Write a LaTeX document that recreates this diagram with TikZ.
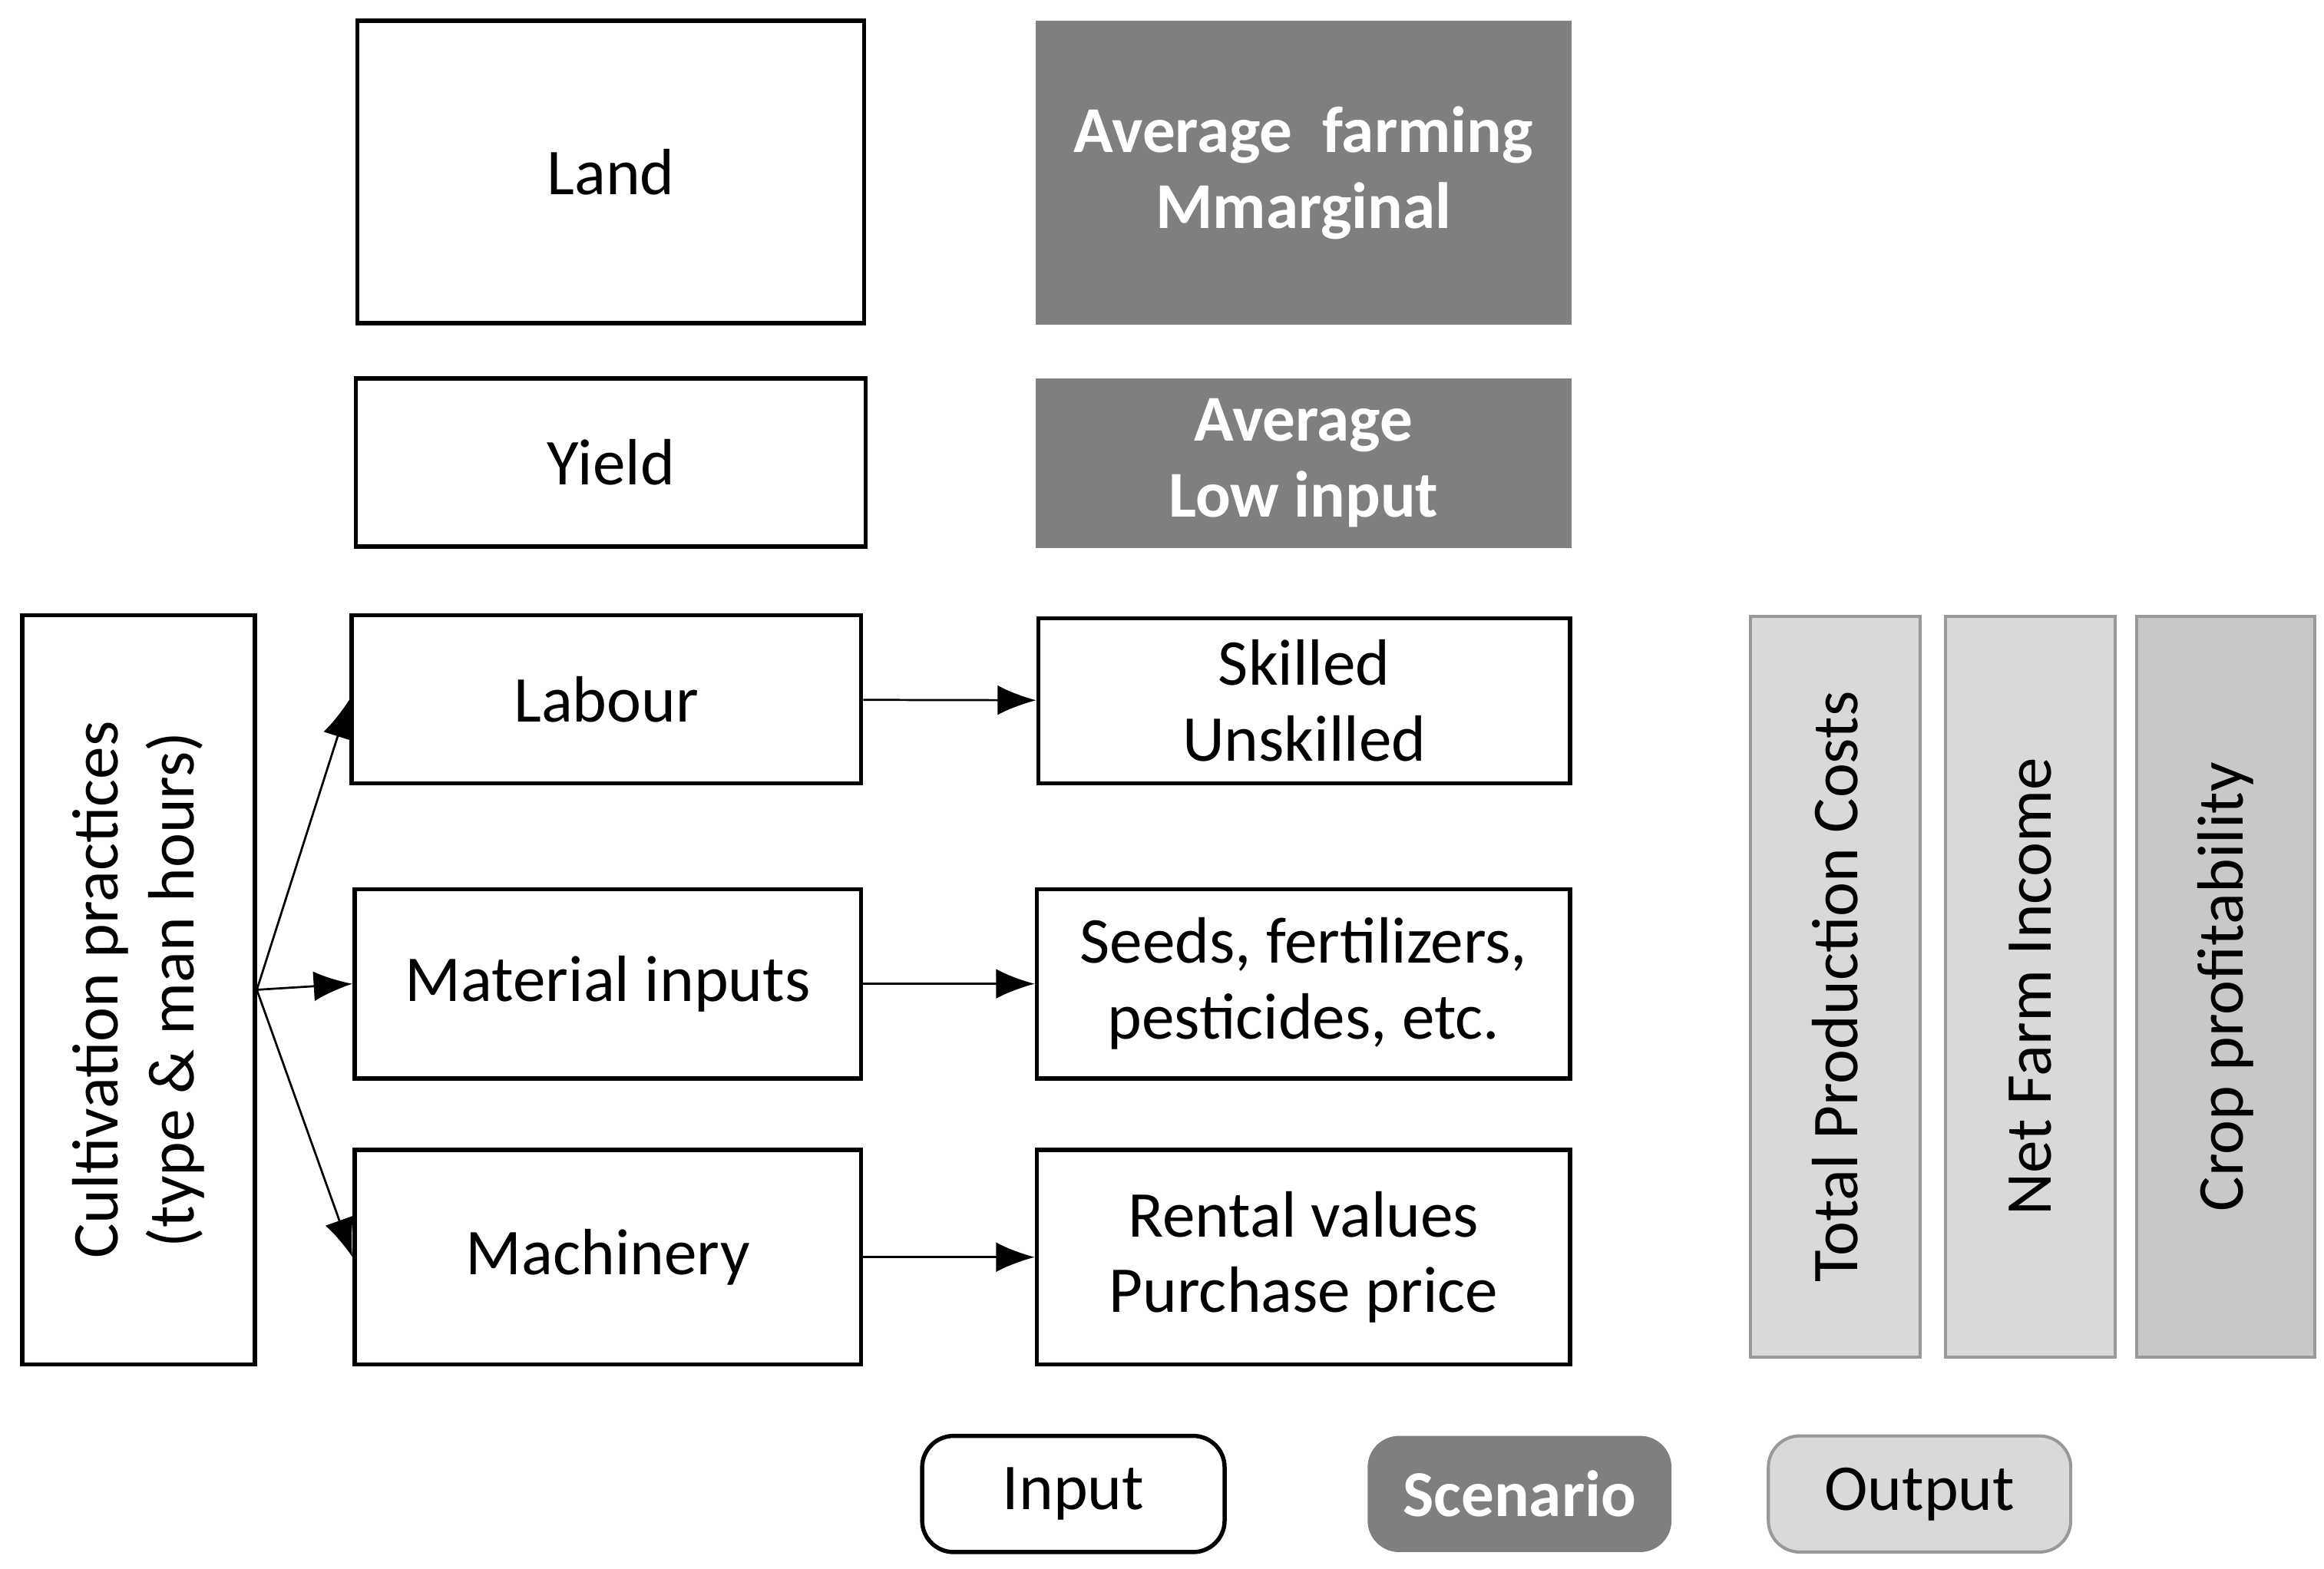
\documentclass[tikz,border=0pt]{standalone}
\usepackage{fontspec}
\setmainfont{Carlito}
\usetikzlibrary{arrows,arrows.meta,positioning}
\definecolor{scengray}{HTML}{7F7F7F}
\definecolor{outgray}{HTML}{D9D9D9}
\definecolor{outdark}{HTML}{C8C8C8}
\begin{document}
\begin{tikzpicture}[->,>=latex,semithick,font=\fontsize{12.5}{14.5}\selectfont]
  \tikzstyle{input}=[draw,thick,align=center,inner sep=0pt]
  \tikzstyle{scenario}=[fill=scengray,text=white,font=\fontsize{12.5}{14.5}\selectfont\bfseries,align=center,inner sep=0pt]
  \tikzstyle{output}=[draw=gray!80,fill=outgray,rotate=90,align=center,inner sep=0pt]
  \useasboundingbox (0,0) rectangle (15.6,-10.53);

  \node[input,minimum width=3.40cm,minimum height=2.03cm] (land) at (4.10,-1.155) {Land};
  \node[scenario,minimum width=3.60cm,minimum height=2.04cm] (scen1) at (8.75,-1.16) {Average\ \ farming\\Mmarginal};
  \node[input,minimum width=3.42cm,minimum height=1.13cm] (yield) at (4.10,-3.105) {Yield};
  \node[scenario,minimum width=3.60cm,minimum height=1.14cm] (scen2) at (8.75,-3.11) {Average\\Low input};
  \node[input,rotate=90,minimum width=5.03cm,minimum height=1.56cm] (cult) at (0.93,-6.645) {Cultivation practices\\(type \& man hours)};
  \node[input,minimum width=3.42cm,minimum height=1.13cm] (labour) at (4.07,-4.695) {Labour};
  \node[input,minimum width=3.57cm,minimum height=1.11cm] (skill) at (8.755,-4.705) {Skilled\\Unskilled};
  \node[input,minimum width=3.40cm,minimum height=1.27cm] (mat) at (4.08,-6.605) {Material inputs};
  \node[input,minimum width=3.58cm,minimum height=1.27cm] (seeds) at (8.75,-6.605) {Seeds, fertilizers,\\pesticides, etc.};
  \node[input,minimum width=3.40cm,minimum height=1.44cm] (mach) at (4.08,-8.44) {Machinery};
  \node[input,minimum width=3.58cm,minimum height=1.44cm] (rent) at (8.75,-8.44) {Rental values\\Purchase price};

  \node[output,minimum width=4.97cm,minimum height=1.14cm] (tpc) at (12.32,-6.625) {Total Production Costs};
  \node[output,minimum width=4.97cm,minimum height=1.14cm] (nfi) at (13.63,-6.625) {Net Farm Income};
  \node[output,fill=outdark,minimum width=4.97cm,minimum height=1.20cm] (cp) at (14.94,-6.625) {Crop profitability};

  \node[input,rounded corners=6pt,minimum width=2.03cm,minimum height=0.78cm] (legin) at (7.205,-10.03) {Input};
  \node[scenario,rounded corners=6pt,minimum width=2.04cm,minimum height=0.78cm] (legsc) at (10.20,-10.03) {Scenario};
  \node[output,rotate=-90,rounded corners=6pt,minimum width=2.03cm,minimum height=0.78cm] (legout) at (12.885,-10.03) {Output};

  \path[thin,>={Latex[length=2.6mm,width=2mm]}] (cult.south) edge (labour.west)
              edge (mat.west)
              edge (mach.west)
        (labour) edge (skill)
        (mat) edge (seeds)
        (mach) edge (rent);
\end{tikzpicture}
\end{document}
